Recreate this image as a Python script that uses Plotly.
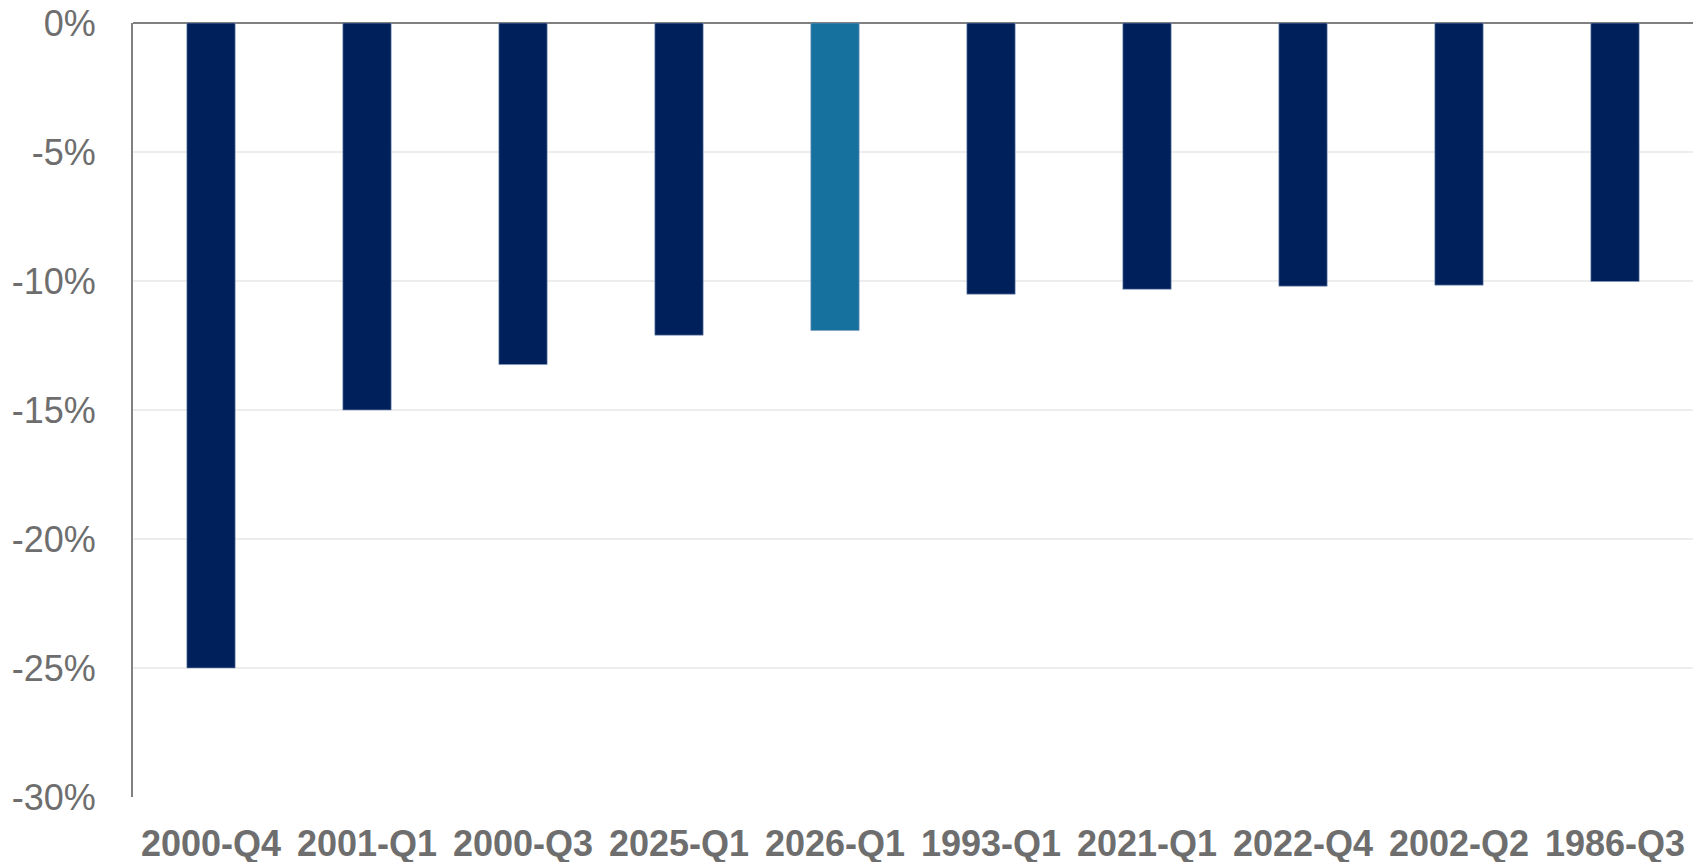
import plotly.graph_objects as go

categories = ["2000-Q4", "2001-Q1", "2000-Q3", "2025-Q1", "2026-Q1",
              "1993-Q1", "2021-Q1", "2022-Q4", "2002-Q2", "1986-Q3"]
values = [-25.0, -15.0, -13.24, -12.10, -11.92, -10.51, -10.32, -10.20, -10.16, -10.02]
highlight = "2026-Q1"

NAVY = "#00205B"
TEAL = "#16719E"
colors = [TEAL if c == highlight else NAVY for c in categories]

y_ticks = [0, -5, -10, -15, -20, -25, -30]

fig = go.Figure(go.Bar(
    x=categories, y=values,
    marker=dict(color=colors, line=dict(color="#8a9dc0", width=0.6)),
    width=0.31,
))

fig.update_layout(
    width=1701, height=862,
    margin=dict(l=125, r=16, t=15, b=73),
    plot_bgcolor="white", paper_bgcolor="white",
    showlegend=False,
    font=dict(family="Liberation Sans, Arial, sans-serif", color="#6e6e6e"),
)
fig.update_yaxes(
    range=[-30, 0], tickvals=y_ticks, ticktext=[f"{v}%" for v in y_ticks],
    showgrid=True, gridcolor="#ededed", gridwidth=1.5,
    zeroline=True, zerolinecolor="#808080", zerolinewidth=2,
    showline=True, linecolor="#808080", linewidth=2,
    tickfont=dict(size=36, color="#6e6e6e"),
    ticks="", ticklabelstandoff=28, automargin=False,
    ticklabeloverflow="allow",
)
fig.update_xaxes(
    showline=False, showgrid=False,
    tickfont=dict(size=36, color="#6e6e6e", weight="bold"),
    ticks="", ticklabelstandoff=22, automargin=False,
    ticklabeloverflow="allow",
)

fig.write_html("out.html")
